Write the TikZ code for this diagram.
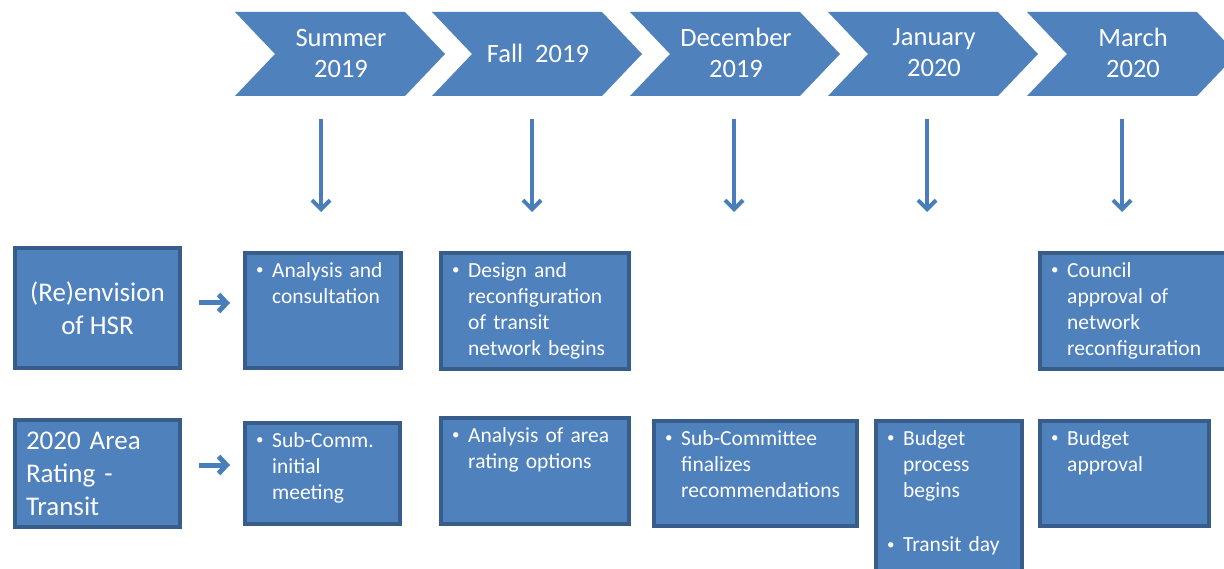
\documentclass[tikz,border=0pt]{standalone}
\usepackage{fontspec}
\setmainfont{Carlito}
\usetikzlibrary{arrows.meta}
\definecolor{boxblue}{HTML}{4F81BD}
\definecolor{boxline}{HTML}{385D8A}
\definecolor{arrowblue}{HTML}{4A7EBB}
\newcommand{\bul}[1]{\noindent
  \makebox[17pt][l]{\hspace{1pt}\raisebox{2.5pt}{\fontsize{15}{15}\selectfont\textbullet}}%
  \parbox[t]{200pt}{\raggedright #1}}
\tikzset{
  box/.style={draw=boxline, fill=boxblue, line width=4pt, inner sep=0pt, anchor=north west},
  headbox/.style={box, text=white, font=\fontsize{27}{33}\selectfont},
  itemtext/.style={anchor=north west, inner sep=0pt, text=white, text width=220pt, align=left,
    font=\fontsize{21.5}{26}\selectfont},
  chevtext/.style={text=white, align=center, font=\fontsize{26.5}{31}\selectfont},
  downarrow/.style={draw=arrowblue, line width=4pt, -{Straight Barb[length=9pt,width=18pt]}},
  sidearrow/.style={draw=arrowblue, line width=5pt, -{Straight Barb[length=8pt,width=17pt]}}
}
\begin{document}
\begin{tikzpicture}[x=1pt, y=-1pt, line join=miter]
  \useasboundingbox (0,0) rectangle (1224,569);
  \clip (0,0) rectangle (1224,569);
  % timeline chevrons
  \foreach \x/\txt [count=\i] in {235/{Summer\\2019}, 432/{Fall~ 2019}, 630/{December\\2019},
                                  828/{January\\2020}, 1027/{March\\2020}}{
    \fill[boxblue] (\x,12) -- ++(170,0) -- ++(40,42) -- ++(-40,42) -- ++(-170,0) -- ++(40,-42) -- cycle;
    \node[chevtext] (c\i) at (\x+106,53) {\txt};
  }
  % arrows down from the chevrons
  \foreach \x [count=\i] in {321,532,734,927,1122}{
    \coordinate (top\i) at (\x,119);
    \coordinate (bot\i) at (\x,212);
    \draw[downarrow] (top\i) -- (bot\i);
  }
  % row heads
  \node[headbox, minimum width=165pt, minimum height=120pt, align=center] (h1) at (13,246) {(Re)envision\\of HSR};
  \node[headbox, minimum width=165pt, minimum height=107pt, text width=143pt, align=left] (h2) at (13,418)
    {2020 Area\\Rating -\\Transit};
  % first row
  \node[box, minimum width=156pt, minimum height=115pt] (s1) at (243,251) {};
  \node[box, minimum width=188pt, minimum height=116pt] (s2) at (439,251) {};
  \node[box, minimum width=190pt, minimum height=116pt] (s3) at (1038,251) {};
  \node[itemtext] (s1t) at ([shift={(12pt,-11pt)}]s1.north west) {\bul{Analysis and\\consultation}};
  \node[itemtext] (s2t) at ([shift={(12pt,-11pt)}]s2.north west) {\bul{Design and\\reconfiguration\\of transit\\network begins}};
  \node[itemtext] (s3t) at ([shift={(12pt,-11pt)}]s3.north west) {\bul{Council\\approval of\\network\\reconfiguration}};
  % second row
  \node[box, minimum width=155pt, minimum height=101pt] (t1) at (243,421) {};
  \node[box, minimum width=188pt, minimum height=106pt] (t2) at (439,416) {};
  \node[box, minimum width=203pt, minimum height=105pt] (t3) at (652,419) {};
  \node[box, minimum width=146pt, minimum height=180pt] (t4) at (874,419) {};
  \node[box, minimum width=169pt, minimum height=105pt] (t5) at (1038,419) {};
  \node[itemtext] (t1t) at ([shift={(12pt,-11pt)}]t1.north west) {\bul{Sub-Comm.\\initial\\meeting}};
  \node[itemtext] (t2t) at ([shift={(12pt,-11pt)}]t2.north west) {\bul{Analysis of area\\rating options}};
  \node[itemtext] (t3t) at ([shift={(12pt,-11pt)}]t3.north west) {\bul{Sub-Committee\\finalizes\\recommendations}};
  \node[itemtext] (t4t) at ([shift={(12pt,-11pt)}]t4.north west) {\bul{Budget\\process\\begins}\par\vspace{35pt}\bul{Transit day}};
  \node[itemtext] (t5t) at ([shift={(12pt,-11pt)}]t5.north west) {\bul{Budget\\approval}};
  % arrows from the row heads
  \draw[sidearrow, shorten <=17pt, shorten >=13pt] (h1.east |- 0,303) -- (s1.west |- 0,303);
  \draw[sidearrow, shorten <=17pt, shorten >=13pt] (h2.east |- 0,465) -- (t1.west |- 0,465);
\end{tikzpicture}
\end{document}
